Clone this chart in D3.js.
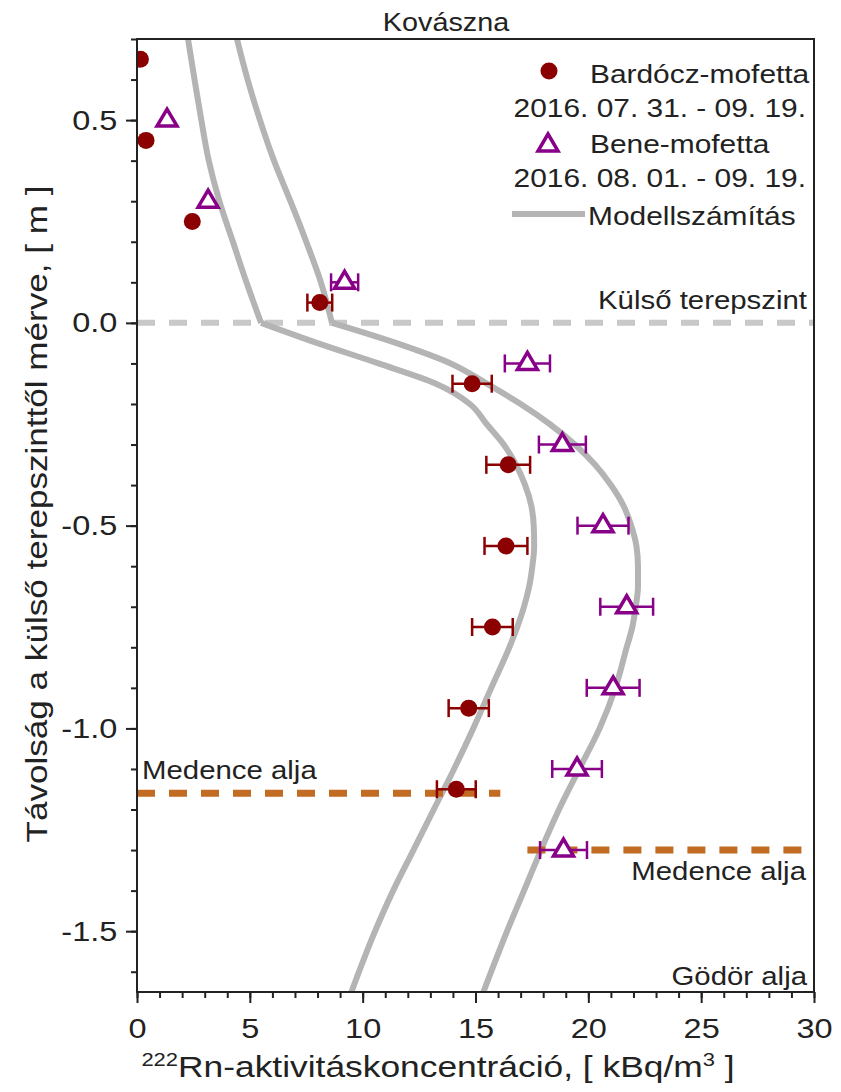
<!DOCTYPE html>
<html>
<head>
<meta charset="utf-8">
<script src="https://cdn.jsdelivr.net/npm/d3@7"></script>
<style>
  body { margin: 0; background: #fff; }
  svg { display: block; font-family: "Liberation Sans", Arial, sans-serif; }
</style>
</head>
<body>
<svg id="chart" width="841" height="1092"></svg>
<script>
// measured points (depth in m, concentration in kBq/m3)
const bardoczDepth = [0.65, 0.45, 0.25, 0.05, -0.15, -0.35, -0.55, -0.75, -0.95, -1.15];
const bardoczConc = [0.15, 0.4, 2.45, 8.1, 14.85, 16.45, 16.35, 15.75, 14.7, 14.15];
const bardoczErr = [0, 0, 0, 0.55, 0.87, 0.97, 0.95, 0.9, 0.89, 0.86];

const beneDepth = [0.5, 0.3, 0.1, -0.1, -0.3, -0.5, -0.7, -0.9, -1.1, -1.3];
const beneConc = [1.33, 3.15, 9.2, 17.3, 18.85, 20.65, 21.7, 21.1, 19.5, 18.9];
const beneErr = [0, 0, 0.6, 1.0, 1.04, 1.13, 1.17, 1.17, 1.1, 1.04];

// model curves
const modelDepth = [0.7, 0.6, 0.5, 0.4, 0.3, 0.2, 0.1, 0,
  -0.05, -0.1, -0.15, -0.2, -0.25, -0.3, -0.35, -0.4, -0.45, -0.5, -0.55, -0.6,
  -0.65, -0.7, -0.75, -0.8, -0.9, -1.0, -1.1, -1.2, -1.3, -1.4, -1.5, -1.65];
const modelA = [2.26, 2.55, 2.85, 3.18, 3.65, 4.25, 4.85, 5.5,
  8.0, 10.7, 13.25, 14.75, 15.5, 16.25, 16.8, 17.2, 17.47, 17.58, 17.6, 17.52,
  17.38, 17.15, 16.85, 16.5, 15.7, 14.9, 14.05, 13.15, 12.25, 11.35, 10.55, 9.5];
const modelB = [4.43, 4.9, 5.45, 6.07, 6.8, 7.5, 8.15, 8.64,
  11.5, 13.9, 15.5, 17.0, 18.3, 19.4, 20.3, 21.0, 21.55, 21.9, 22.13, 22.2,
  22.2, 22.1, 21.95, 21.7, 21.2, 20.5, 19.6, 18.7, 17.9, 17.15, 16.4, 15.35];

// basin bottoms
const medenceDepth = [-1.16, -1.3];
const medenceFrom = [0, 17.3];
const medenceTo = [16.1, 30];

const xTicks = [0, 5, 10, 15, 20, 25, 30];
const yTicks = [-1.5, -1.0, -0.5, 0.0, 0.5];

const legendLabels = ["Bardócz-mofetta", "2016. 07. 31. - 09. 19.", "Bene-mofetta", "2016. 08. 01. - 09. 19.", "Modellszámítás"];

const ink = "#222";
const red = "#8b0000";
const purple = "#880088";
const grey = "#b4b4b4";
const orange = "#c26b22";

const plotL = 137, plotR = 814, plotT = 39, plotB = 992;

const x = d3.scaleLinear().domain([0, 30]).range([plotL, plotR]);
const y = d3.scaleLinear().domain([-1.65, 0.7]).range([plotB, plotT]);

const svg = d3.select("#chart");

// text helper: the source font is a bit wider than Arial
function label(sel, px, py, str, size, anchor, sx) {
  return sel.append("text")
    .attr("transform", `translate(${px},${py}) scale(${sx},1)`)
    .attr("text-anchor", anchor)
    .attr("font-size", size + "px")
    .attr("fill", ink)
    .text(str);
}

svg.append("clipPath").attr("id", "plotclip")
  .append("rect")
  .attr("x", plotL).attr("y", plotT)
  .attr("width", plotR - plotL).attr("height", plotB - plotT);

const plot = svg.append("g").attr("clip-path", "url(#plotclip)");

// ground level
plot.append("line")
  .attr("x1", x(0)).attr("x2", x(30))
  .attr("y1", y(0)).attr("y2", y(0))
  .attr("stroke", "#c8c8c8").attr("stroke-width", 6)
  .attr("stroke-dasharray", "18,14");

// model curves, split at the ground level kink
const line = d3.line()
  .x(d => x(d[1]))
  .y(d => y(d[0]))
  .curve(d3.curveMonotoneY);

[modelA, modelB].forEach(arr => {
  const pts = modelDepth.map((d, i) => [d, arr[i]]);
  [pts.filter(p => p[0] >= 0), pts.filter(p => p[0] <= 0)].forEach(seg => {
    plot.append("path")
      .attr("d", line(seg))
      .attr("fill", "none")
      .attr("stroke", grey)
      .attr("stroke-width", 6);
  });
});

// basin bottom lines
medenceDepth.forEach((d, i) => {
  plot.append("line")
    .attr("x1", x(medenceFrom[i])).attr("x2", x(medenceTo[i]))
    .attr("y1", y(d)).attr("y2", y(d))
    .attr("stroke", orange).attr("stroke-width", 7)
    .attr("stroke-dasharray", "18,14");
});

function errorBars(depths, conc, err, color) {
  const g = plot.append("g").attr("stroke", color).attr("stroke-width", 2.5);
  depths.forEach((d, i) => {
    if (!err[i]) return;
    const cy = y(d), x0 = x(conc[i] - err[i]), x1 = x(conc[i] + err[i]);
    g.append("line").attr("x1", x0).attr("x2", x1).attr("y1", cy).attr("y2", cy);
    g.append("line").attr("x1", x0).attr("x2", x0).attr("y1", cy - 9).attr("y2", cy + 9);
    g.append("line").attr("x1", x1).attr("x2", x1).attr("y1", cy - 9).attr("y2", cy + 9);
  });
}

errorBars(bardoczDepth, bardoczConc, bardoczErr, red);
errorBars(beneDepth, beneConc, beneErr, purple);

const triPath = "M0,-11L10,6L-10,6Z";

plot.selectAll(".bardocz")
  .data(bardoczDepth)
  .join("circle")
  .attr("class", "bardocz")
  .attr("cx", (d, i) => x(bardoczConc[i]))
  .attr("cy", d => y(d))
  .attr("r", 8.5)
  .attr("fill", red);

plot.selectAll(".bene")
  .data(beneDepth)
  .join("path")
  .attr("class", "bene")
  .attr("d", triPath)
  .attr("transform", (d, i) => `translate(${x(beneConc[i])},${y(d)})`)
  .attr("fill", "#fff")
  .attr("stroke", purple)
  .attr("stroke-width", 3.5)
  .attr("stroke-linejoin", "miter");

// axes
const xAxis = svg.append("g")
  .attr("transform", `translate(0,${plotB})`)
  .call(d3.axisBottom(x).tickValues(xTicks).tickSize(11).tickSizeOuter(0).tickPadding(15)
    .tickFormat(d => d));
svg.append("g")
  .attr("transform", `translate(0,${plotB})`)
  .call(d3.axisBottom(x).tickValues(d3.range(0, 31)).tickSize(6).tickSizeOuter(0).tickFormat(""));

const yAxis = svg.append("g")
  .attr("transform", `translate(${plotL},0)`)
  .call(d3.axisLeft(y).tickValues(yTicks).tickSize(11).tickSizeOuter(0).tickPadding(6)
    .tickFormat(d => d.toFixed(1)));
svg.append("g")
  .attr("transform", `translate(${plotL},0)`)
  .call(d3.axisLeft(y).tickValues(d3.range(-16, 8).map(i => i / 10)).tickSize(6).tickSizeOuter(0).tickFormat(""));

svg.selectAll(".domain").remove();
svg.selectAll(".tick line").attr("stroke", ink).attr("stroke-width", 2);

xAxis.selectAll("text")
  .attr("font-size", "28px").attr("fill", ink)
  .attr("font-family", "Liberation Sans, Arial, sans-serif")
  .attr("transform", "scale(1.16,1)");
yAxis.selectAll("text")
  .attr("font-size", "28px").attr("fill", ink)
  .attr("font-family", "Liberation Sans, Arial, sans-serif")
  .attr("transform", "scale(1.16,1)");

// frame
svg.append("rect")
  .attr("x", plotL).attr("y", plotT)
  .attr("width", plotR - plotL).attr("height", plotB - plotT)
  .attr("fill", "none").attr("stroke", ink).attr("stroke-width", 2);

// titles
label(svg, 446, 31, "Kovászna", 25, "middle", 1.15);

const xt = svg.append("text")
  .attr("transform", "translate(438,1077) scale(1.22,1)")
  .attr("text-anchor", "middle")
  .attr("font-size", "29px")
  .attr("fill", ink);
xt.append("tspan").attr("font-size", "18px").attr("dy", "-11").text("222");
xt.append("tspan").attr("dy", "11").text("Rn-aktivitáskoncentráció, [ kBq/m");
xt.append("tspan").attr("font-size", "18px").attr("dy", "-11").text("3");
xt.append("tspan").attr("dy", "11").text(" ]");

svg.append("text")
  .attr("transform", "translate(47,514) rotate(-90) scale(1.17,1)")
  .attr("text-anchor", "middle")
  .attr("font-size", "30px")
  .attr("fill", ink)
  .text("Távolság a külső terepszinttől mérve, [ m ]");

// annotations
label(svg, 807, 309, "Külső terepszint", 26, "end", 1.13);
label(svg, 142, 779, "Medence alja", 26, "start", 1.13);
label(svg, 806, 880, "Medence alja", 26, "end", 1.13);
label(svg, 807, 985, "Gödör alja", 26, "end", 1.13);

// legend
const lg = svg.append("g");
lg.append("circle").attr("cx", 549).attr("cy", 71).attr("r", 8.5).attr("fill", red);
lg.append("path").attr("d", triPath).attr("transform", "translate(548,145)")
  .attr("fill", "#fff").attr("stroke", purple).attr("stroke-width", 3.5);
lg.append("line").attr("x1", 512).attr("x2", 585).attr("y1", 214).attr("y2", 214)
  .attr("stroke", grey).attr("stroke-width", 6);
label(lg, 590, 83, legendLabels[0], 26, "start", 1.15);
label(lg, 806, 117, legendLabels[1], 26, "end", 1.15);
label(lg, 590, 153, legendLabels[2], 26, "start", 1.15);
label(lg, 806, 187, legendLabels[3], 26, "end", 1.15);
label(lg, 588, 225, legendLabels[4], 26, "start", 1.15);
</script>
</body>
</html>
